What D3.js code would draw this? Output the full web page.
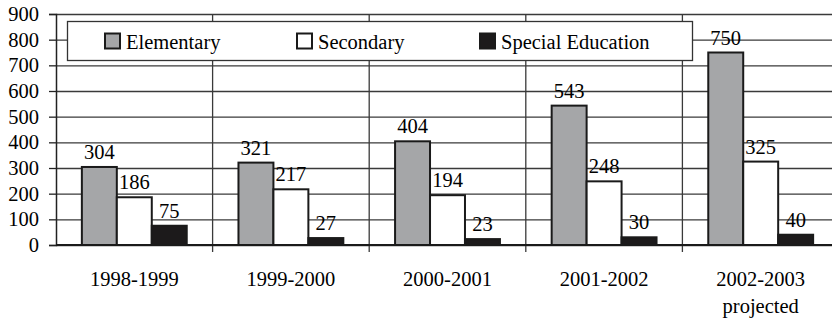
<!DOCTYPE html>
<html>
<head>
<meta charset="utf-8">
<script src="https://cdn.jsdelivr.net/npm/d3@7/dist/d3.min.js"></script>
</head>
<body style="margin:0">
<svg id="chart" width="832" height="323"></svg>
<script>
// Enrollment by school year and program
const categories = ["1998-1999", "1999-2000", "2000-2001", "2001-2002", "2002-2003"];
const categoryNotes = ["", "", "", "", "projected"];
const seriesNames = ["Elementary", "Secondary", "Special Education"];
const elementary = [304, 321, 404, 543, 750];
const secondary = [186, 217, 194, 248, 325];
const specialEducation = [75, 27, 23, 30, 40];
const yTicks = [0, 100, 200, 300, 400, 500, 600, 700, 800, 900];

const seriesValues = [elementary, secondary, specialEducation];
const seriesFill = ["#a5a6a8", "#ffffff", "#1c1a1b"];

const fontSize = 20.5;

const svg = d3.select("#chart");
const margin = { left: 56, top: 14, bottom: 245 };
const plotRight = 839;

// plain serif text label
function label(parent, px, py, txt, anchor) {
  return parent.append("text")
    .attr("x", px).attr("y", py)
    .attr("font-family", "Liberation Serif")
    .attr("font-size", fontSize)
    .attr("text-anchor", anchor || "start")
    .text(txt);
}

const x = d3.scaleBand().domain(categories).range([margin.left, plotRight]).padding(0);
const xs = d3.scaleBand().domain(seriesNames)
  .range([0, x.bandwidth()]).paddingInner(0).paddingOuter(0.74);
const y = d3.scaleLinear().domain([0, 900]).range([margin.bottom, margin.top]);

// horizontal gridlines
svg.append("g")
  .attr("transform", `translate(${margin.left},0)`)
  .call(d3.axisLeft(y).tickValues(yTicks).tickSize(-(plotRight - margin.left)).tickFormat(""))
  .call(g => g.select(".domain").remove())
  .call(g => g.selectAll("line").attr("stroke", "#3a3a3a").attr("stroke-width", 1.3));

// vertical dividers between year groups
const dividers = categories.map(c => x(c) + x.bandwidth());
svg.append("g").selectAll("line").data(dividers).join("line")
  .attr("x1", d => d).attr("x2", d => d)
  .attr("y1", y(900)).attr("y2", margin.bottom + 7)
  .attr("stroke", "#3a3a3a").attr("stroke-width", 1.3);

// y axis line and ticks
svg.append("g")
  .attr("transform", `translate(${margin.left},0)`)
  .call(d3.axisLeft(y).tickValues(yTicks).tickSize(7).tickFormat(""))
  .call(g => g.select(".domain").attr("stroke", "#222").attr("stroke-width", 1.5))
  .call(g => g.selectAll("line").attr("stroke", "#222").attr("stroke-width", 1.3));

// y tick labels
const yLabels = svg.append("g");
yTicks.forEach(v => label(yLabels, margin.left - 17, y(v) + 7, String(v), "end"));

// bars and value labels
const barLayer = svg.append("g");
const labelLayer = svg.append("g");
seriesNames.forEach((name, si) => {
  categories.forEach((cat, i) => {
    const v = seriesValues[si][i];
    barLayer.append("rect")
      .attr("x", x(cat) + xs(name))
      .attr("width", xs.bandwidth())
      .attr("y", y(v))
      .attr("height", y(0) - y(v))
      .attr("fill", seriesFill[si])
      .attr("stroke", "#1a1a1a").attr("stroke-width", 2);
    label(labelLayer, x(cat) + xs(name) + xs.bandwidth() / 2, y(v) - 8, String(v), "middle");
  });
});

// x axis baseline
svg.append("line")
  .attr("x1", margin.left).attr("x2", plotRight)
  .attr("y1", y(0)).attr("y2", y(0))
  .attr("stroke", "#1a1a1a").attr("stroke-width", 2);

// category labels, with a second line where a note exists
const catLayer = svg.append("g");
categories.forEach((cat, i) => {
  const cx = x(cat) + x.bandwidth() / 2;
  label(catLayer, cx, 286, cat, "middle");
  if (categoryNotes[i]) label(catLayer, cx, 313, categoryNotes[i], "middle");
});

// legend
const legend = svg.append("g");
legend.append("rect")
  .attr("x", 67.5).attr("y", 21.5).attr("width", 625).attr("height", 39)
  .attr("fill", "#fff").attr("stroke", "#333").attr("stroke-width", 1.3);
const legendX = [105, 297, 480];
seriesNames.forEach((name, si) => {
  legend.append("rect")
    .attr("x", legendX[si]).attr("y", 33.5).attr("width", 15).attr("height", 15)
    .attr("fill", seriesFill[si]).attr("stroke", "#1a1a1a").attr("stroke-width", 2);
  label(legend, legendX[si] + 21, 49, name);
});
</script>
</body>
</html>
